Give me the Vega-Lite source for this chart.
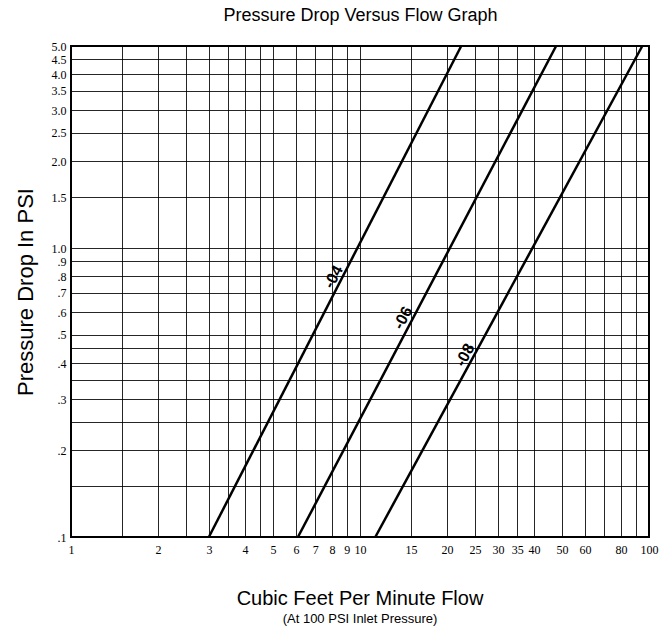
{
  "$schema": "https://vega.github.io/schema/vega-lite/v6.json",
  "width": 578,
  "height": 491,
  "autosize": {"type": "none"},
  "padding": {"left": 71, "top": 46, "right": 16, "bottom": 96},
  "background": "white",
  "config": {
    "font": "Liberation Sans",
    "view": {"stroke": "black", "strokeWidth": 2}
  },
  "title": {
    "text": "Cubic Feet Per Minute Flow",
    "subtitle": "(At 100 PSI Inlet Pressure)",
    "orient": "bottom",
    "anchor": "middle",
    "fontSize": 20,
    "fontWeight": "normal",
    "color": "black",
    "subtitleFontSize": 13,
    "subtitleColor": "black",
    "subtitlePadding": 4,
    "offset": 34
  },
  "datasets": {
    "curves": [
      {"series": "-04", "flow": 3.0, "psi": 0.1},
      {"series": "-04", "flow": 22.4, "psi": 5.0},
      {"series": "-06", "flow": 6.1, "psi": 0.1},
      {"series": "-06", "flow": 47.7, "psi": 5.0},
      {"series": "-08", "flow": 11.3, "psi": 0.1},
      {"series": "-08", "flow": 94.8, "psi": 5.0}
    ],
    "tags": [
      {"series": "-04", "flow": 8.1, "psi": 0.794},
      {"series": "-06", "flow": 14.1, "psi": 0.573},
      {"series": "-08", "flow": 23.1, "psi": 0.426}
    ]
  },
  "layer": [
    {
      "data": {"name": "curves"},
      "mark": {"type": "line", "color": "black", "strokeWidth": 2.5},
      "encoding": {
        "x": {
          "field": "flow",
          "type": "quantitative",
          "scale": {"type": "log", "domain": [1, 100], "nice": false},
          "axis": {
            "orient": "bottom",
            "title": null,
            "values": [1, 1.5, 2, 2.5, 3, 3.5, 4, 4.5, 5, 6, 7, 8, 9, 10, 15, 20, 25, 30, 35, 40, 50, 60, 70, 80, 90, 100],
            "labelExpr": "indexof([1.5, 2.5, 3.5, 4.5, 70, 90], datum.value) >= 0 ? '' : format(datum.value, 'd')",
            "grid": true,
            "gridColor": "black",
            "gridOpacity": 0.85,
            "gridWidth": 1,
            "ticks": false,
            "domain": false,
            "labelFont": "Liberation Sans Narrow",
            "labelFontSize": 12,
            "labelColor": "black",
            "labelPadding": 7,
            "labelFlush": false,
            "labelOverlap": false
          }
        },
        "y": {
          "field": "psi",
          "type": "quantitative",
          "scale": {"type": "log", "domain": [0.1, 5], "nice": false},
          "axis": {
            "title": "Pressure Drop In PSI",
            "titleFontSize": 22,
            "titleFontWeight": "normal",
            "titleColor": "black",
            "titlePadding": 14,
            "values": [0.1, 0.15, 0.2, 0.25, 0.3, 0.35, 0.4, 0.45, 0.5, 0.6, 0.7, 0.8, 0.9, 1, 1.5, 2, 2.5, 3, 3.5, 4, 4.5, 5],
            "labelExpr": "datum.value >= 1 ? format(datum.value, '.1f') : (indexof([0.15, 0.25, 0.35, 0.45], datum.value) >= 0 ? '' : '.' + format(datum.value * 10, '.0f'))",
            "grid": true,
            "gridColor": "black",
            "gridOpacity": 0.85,
            "gridWidth": 1,
            "ticks": false,
            "domain": false,
            "labelFont": "Liberation Sans Narrow",
            "labelFontSize": 12,
            "labelColor": "black",
            "labelPadding": 5,
            "labelFlush": false,
            "labelOverlap": false
          }
        },
        "detail": {"field": "series"}
      }
    },
    {
      "data": {"name": "tags"},
      "mark": {"type": "text", "angle": -62, "fontSize": 16, "fontWeight": "bold", "color": "black", "font": "Liberation Sans"},
      "encoding": {
        "x": {
          "field": "flow",
          "type": "quantitative",
          "axis": {
            "orient": "top",
            "title": "Pressure Drop Versus Flow Graph",
            "titleFontSize": 18,
            "titleFontWeight": "normal",
            "titleColor": "black",
            "titlePadding": 22,
            "labels": false,
            "ticks": false,
            "domain": false,
            "grid": false
          }
        },
        "y": {"field": "psi", "type": "quantitative"},
        "text": {"field": "series"}
      }
    }
  ],
  "resolve": {"axis": {"x": "independent"}}
}
